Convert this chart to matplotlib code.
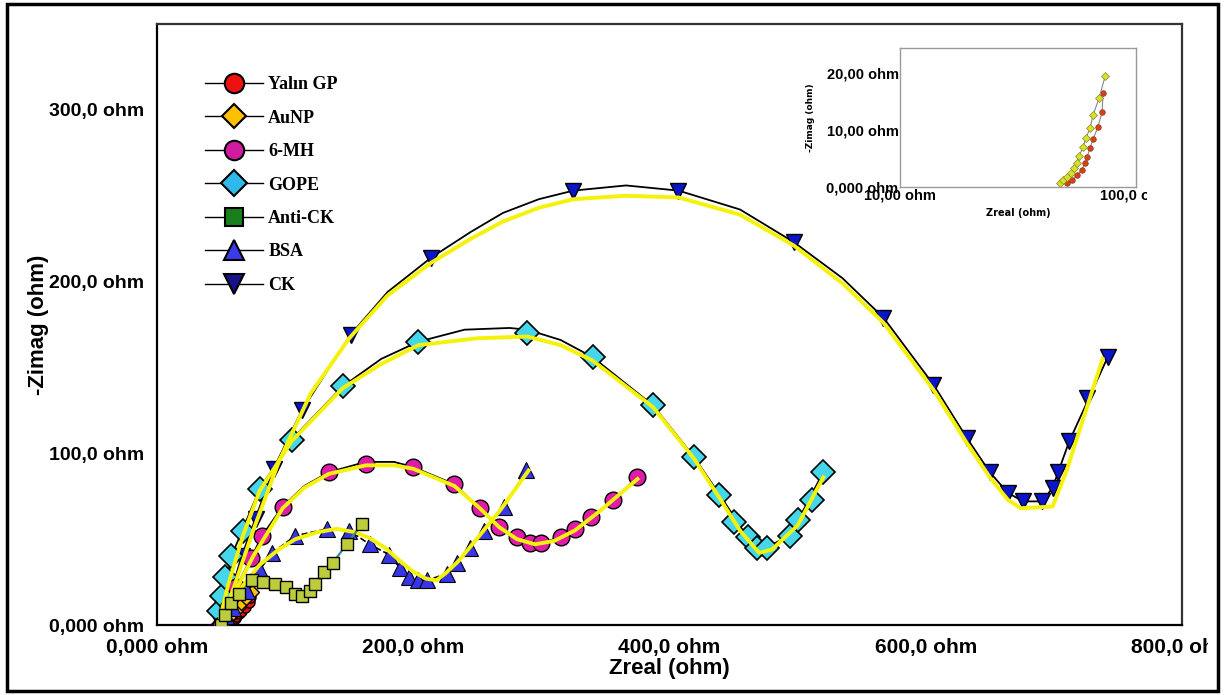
import matplotlib
matplotlib.use("Agg")
from matplotlib import pyplot as plt
from matplotlib.lines import Line2D
from matplotlib.patches import Rectangle
from matplotlib.transforms import Bbox

# ---- data (ohm) ----
gp_x = [51.0, 53.7, 56.2, 58.9, 60.9, 62.0, 63.8, 65.7, 68.9, 71.8, 72.5]
gp_y = [0.7, 1.2, 2.1, 3.0, 4.2, 5.3, 6.8, 8.4, 10.5, 13.2, 16.5]

au_x = [47.6, 49.1, 51.0, 53.1, 54.6, 56.2, 57.3, 59.6, 61.3, 63.8, 65.7, 69.7, 74.0]
au_y = [0.7, 1.2, 1.8, 2.5, 3.3, 4.2, 5.4, 7.0, 8.6, 10.3, 12.6, 15.6, 19.5]

mh_x = [50, 55, 62, 73, 82, 98, 134, 163, 200, 232, 252, 267, 281, 291, 300, 315, 326, 339, 356, 375]
mh_y = [0, 10, 22, 39, 52, 69, 89, 94, 92, 82, 68, 57, 51, 48, 48, 51, 56, 63, 73, 86]
mh_line_x = [50, 62, 82, 98, 115, 134, 163, 185, 200, 232, 252, 267, 281, 291, 300, 315, 326, 339, 356, 375]
mh_line_y = [0, 22, 52, 69, 81, 89, 95, 95, 92, 82, 68, 57, 51, 48, 48, 51, 56, 63, 73, 86]
mh_fit_x = [50, 60, 75, 98, 115, 134, 163, 185, 200, 232, 252, 267, 281, 295, 310, 326, 345, 375]
mh_fit_y = [0, 18, 40, 68, 80, 88, 93, 93, 91, 81, 68, 57, 50, 47, 49, 55, 66, 85]

gope_x = [48, 51, 53, 58, 67, 80, 105, 145, 204, 289, 340, 387, 419, 439, 450, 461, 468, 476, 494, 500, 511, 520]
gope_y = [8, 17, 28, 40, 55, 79, 108, 139, 165, 170, 156, 128, 98, 76, 60, 51, 45, 45, 52, 61, 73, 89]
gope_line_x = [48, 58, 80, 105, 145, 175, 204, 240, 275, 289, 315, 340, 387, 419, 439, 461, 472, 494, 520]
gope_line_y = [0, 40, 79, 108, 139, 155, 165, 172, 173, 172, 166, 156, 128, 98, 76, 51, 44, 52, 89]
gope_fit_x = [48, 55, 67, 80, 105, 145, 175, 204, 250, 289, 315, 340, 387, 419, 439, 455, 470, 480, 500, 520]
gope_fit_y = [0, 22, 52, 78, 107, 138, 152, 163, 167, 168, 163, 154, 127, 97, 74, 55, 42, 44, 58, 86]

ack_x = [50, 53, 58, 64, 74, 83, 92, 101, 108, 113, 119, 123, 130, 137, 148, 160]
ack_y = [0, 6, 13, 18, 26, 25, 24, 22, 18, 17, 20, 24, 31, 36, 47, 59]

bsa_x = [50, 54, 59, 70, 80, 90, 108, 133, 150, 166, 181, 190, 197, 204, 211, 226, 234, 244, 255, 271, 288]
bsa_y = [0, 5, 10, 20, 32, 42, 52, 56, 55, 47, 41, 33, 28, 26, 26, 30, 36, 45, 55, 69, 90]
bsa_fit_x = [50, 62, 80, 95, 108, 125, 140, 155, 165, 178, 190, 200, 210, 218, 225, 235, 245, 268, 290]
bsa_fit_y = [0, 18, 35, 44, 50, 54, 56, 54, 51, 45, 37, 31, 27, 26, 30, 37, 46, 67, 90]

ck_x = [50, 53, 58, 66, 77, 91, 113, 151, 214, 325, 407, 497, 567, 606, 632, 650, 664, 676, 691, 699, 703, 712, 726, 742]
ck_y = [0, 8, 20, 40, 62, 91, 125, 169, 214, 253, 253, 223, 179, 140, 109, 89, 77, 72, 72, 80, 89, 107, 132, 156]
ck_line_x = [50, 66, 91, 113, 151, 180, 214, 245, 270, 298, 325, 366, 407, 455, 497, 535, 567, 606, 632, 650, 664, 676, 691, 699, 712, 742]
ck_line_y = [0, 40, 91, 125, 169, 194, 214, 229, 240, 248, 253, 256, 253, 242, 223, 202, 179, 140, 109, 89, 77, 72, 72, 80, 107, 156]
ck_fit_x = [50, 60, 75, 95, 120, 150, 180, 214, 245, 270, 298, 325, 366, 407, 455, 497, 535, 567, 606, 632, 650, 664, 674, 699, 710, 722, 738]
ck_fit_y = [0, 22, 55, 95, 135, 167, 192, 211, 225, 235, 243, 248, 250, 249, 239, 221, 199, 176, 137, 106, 86, 73, 68, 69, 90, 118, 155]

names = ["Yalın GP", "AuNP", "6-MH", "GOPE", "Anti-CK", "BSA", "CK"]

YEL = "#f5f20a"

fig = plt.figure(figsize=(12.25, 6.95), dpi=100)
ax = fig.add_axes([0.1282, 0.1007, 0.8367, 0.8647])

# bare electrode / gold nanoparticles (hidden in the start cluster)
ax.plot(gp_x, gp_y, color="black", lw=1, marker="o", ms=8, mfc="#ee1111", mec="black", zorder=2)
ax.plot(au_x, au_y, color="black", lw=1, marker="D", ms=7, mfc="#ffc000", mec="black", zorder=2)

# CK
ax.plot(ck_line_x, ck_line_y, color="black", lw=1.3, zorder=3)
ax.plot(ck_x, ck_y, ls="none", marker="v", ms=12, mfc="#0a14c8", mec="black", mew=1, zorder=4)
ax.plot(ck_fit_x, ck_fit_y, color=YEL, lw=2.8, zorder=5)

# GOPE
ax.plot(gope_line_x, gope_line_y, color="black", lw=1.3, zorder=3)
ax.plot(gope_x, gope_y, ls="none", marker="D", ms=12, mfc="#45d6ea", mec="black", mew=1.2, zorder=4)
ax.plot(gope_fit_x, gope_fit_y, color=YEL, lw=2.8, zorder=5)

# 6-MH
ax.plot(mh_line_x, mh_line_y, color="black", lw=1.3, zorder=3)
ax.plot(mh_x, mh_y, ls="none", marker="o", ms=12, mfc="#e01aaa", mec="black", mew=1, zorder=4)
ax.plot(mh_fit_x, mh_fit_y, color=YEL, lw=2.8, zorder=5)

# BSA
ax.plot(bsa_x, bsa_y, color="black", lw=1.2, ls="--", zorder=3)
ax.plot(bsa_x, bsa_y, ls="none", marker="^", ms=11, mfc="#3636e6", mec="black", mew=0.8, zorder=4)
ax.plot(bsa_fit_x, bsa_fit_y, color=YEL, lw=2.8, zorder=5)

# Anti-CK
ax.plot(ack_x, ack_y, color="#3f8a86", lw=1.6, zorder=6,
        marker="s", ms=9, mfc="#bccc3c", mec="black", mew=1)

ax.set_xlim(0, 800)
ax.set_ylim(0, 350)
ax.set_xticks([0, 200, 400, 600, 800])
ax.set_xticklabels(["0,000 ohm", "200,0 ohm", "400,0 ohm", "600,0 ohm", "800,0 ohm"])
ax.set_yticks([0, 100, 200, 300])
ax.set_yticklabels(["0,000 ohm", "100,0 ohm", "200,0 ohm", "300,0 ohm"])
ax.tick_params(length=0, pad=9)
for t in ax.get_yticklabels():
    t.set_fontfamily("Liberation Sans")
    t.set_fontweight("bold")
    t.set_fontsize(14)
for t in ax.get_xticklabels():
    t.set_fontfamily("Liberation Sans")
    t.set_fontweight("bold")
    t.set_fontsize(15)
for s in ax.spines.values():
    s.set_linewidth(1.6)
ax.spines["top"].set_color("#333333")
ax.spines["right"].set_color("#333333")

ax.set_xlabel("Zreal (ohm)", fontsize=16, fontweight="bold", family="Liberation Sans", labelpad=1)
ax.set_ylabel("-Zimag (ohm)", fontsize=16, fontweight="bold", family="Liberation Sans", labelpad=0)

# clip the last x label at the figure edge like the original
fig.canvas.draw()
ax.get_xticklabels()[-1].set_clip_box(Bbox([[0, 0], [1208, 695]]))
ax.get_xticklabels()[-1].set_clip_on(True)

# legend
handles = [
    Line2D([], [], color="black", lw=1, marker="o", ms=14, mfc="#ee1111", mec="black", mew=1.5),
    Line2D([], [], color="black", lw=1, marker="D", ms=12, mfc="#ffc000", mec="black", mew=1.5),
    Line2D([], [], color="black", lw=1, marker="o", ms=14, mfc="#d01aa0", mec="black", mew=1.5),
    Line2D([], [], color="black", lw=1, marker="D", ms=13, mfc="#2fb8ea", mec="black", mew=1.5),
    Line2D([], [], color="black", lw=1, marker="s", ms=13, mfc="#1a7f1a", mec="black", mew=1.5),
    Line2D([], [], color="black", lw=1, marker="^", ms=14, mfc="#3a3ae6", mec="black", mew=1.5),
    Line2D([], [], color="black", lw=1, marker="v", ms=14, mfc="#16138a", mec="black", mew=1.5),
]
ax.legend(handles, names, loc="upper left", bbox_to_anchor=(0.038, 0.928), frameon=False,
          prop={"family": "Liberation Serif", "weight": "bold", "size": 13},
          handlelength=3.2, handletextpad=0.3, labelspacing=0.91, borderpad=0)

# inset
ins = fig.add_axes([0.7347, 0.7309, 0.1927, 0.2])
ins.plot(gp_x, gp_y, color="#888888", lw=0.8, marker="o", ms=4, mfc="#d8401a", mec="#8a3a10", mew=0.5)
ins.plot(au_x, au_y, color="#888888", lw=0.8, marker="D", ms=4, mfc="#d6e030", mec="#8a8a20", mew=0.5)
ins.set_xscale("log")
ins.set_xlim(10, 100)
ins.set_ylim(0, 24.4)
ins.set_xticks([10, 100])
ins.set_xticklabels(["10,00 ohm", "100,0 ohm"])
ins.set_xticks([], minor=True)
ins.set_yticks([0, 10, 20])
ins.set_yticklabels(["0,000 ohm", "10,00 ohm", "20,00 ohm"])
ins.tick_params(length=0, pad=1, labelsize=10.5)
for t in ins.get_xticklabels() + ins.get_yticklabels():
    t.set_fontweight("bold")
    t.set_fontfamily("Liberation Sans")
for s in ins.spines.values():
    s.set_color("#999999")
    s.set_linewidth(1)
ins.set_xlabel("Zreal (ohm)", fontsize=7, fontweight="bold", labelpad=4)
ins.set_ylabel("-Zimag (ohm)", fontsize=6.5, fontweight="bold", labelpad=8)
fig.canvas.draw()
ins.get_xticklabels()[-1].set_clip_box(Bbox([[0, 0], [1147, 695]]))
ins.get_xticklabels()[-1].set_clip_on(True)

# outer frame
fig.patches.append(Rectangle((0.006, 0.006), 0.988, 0.988, transform=fig.transFigure,
                             fill=False, edgecolor="black", lw=2.5))

fig.savefig("out.png", dpi=100)
